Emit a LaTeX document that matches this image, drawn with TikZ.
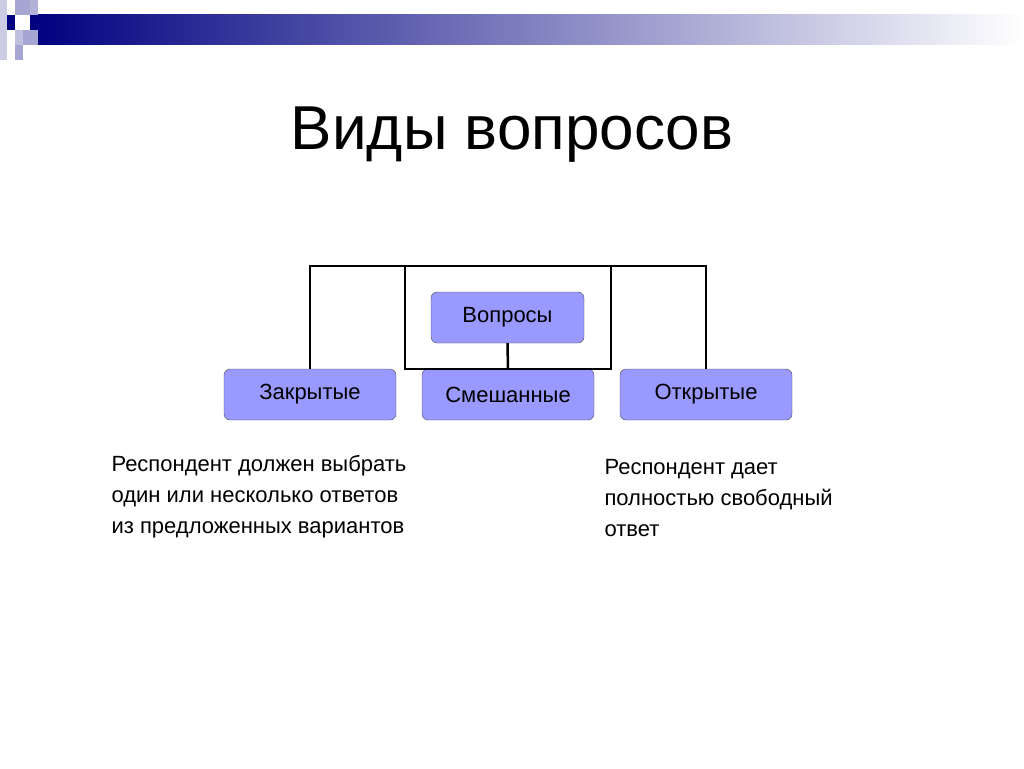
\documentclass[tikz,border=0pt]{standalone}
\usepackage{fontspec}
\setmainfont{Liberation Sans}
\begin{document}
\begin{tikzpicture}[x=1pt,y=-1pt,
  box/.style={draw=black!70,fill=boxblue,rounded corners=6pt,minimum height=51pt,font=\fontsize{22}{26}\selectfont,inner sep=0pt},
  ln/.style={line width=2.5pt}]
\definecolor{boxblue}{HTML}{9999FF}
\definecolor{navy}{HTML}{000080}
\useasboundingbox (0,0) rectangle (1024,768);
\shade[left color=navy,right color=white] (30,15) rectangle (1024,45);
\fill[navy] (7,15) rectangle (15,30);
\fill[navy!35] (15,0) rectangle (30,15);
\fill[navy!30] (30,0) rectangle (38,15);
\fill[navy!25] (15,30) rectangle (30,45);
\fill[navy!35] (23,30) rectangle (38,45);
\fill[navy!35] (15,45) rectangle (23,60);
\fill[navy!20] (0,0) rectangle (7,60);
\node[font=\fontsize{62}{70}\selectfont] (t) at (512,135) {Виды вопросов};
\node[box,minimum width=153pt] (q) at (507.5,317.5) {Вопросы};
\node[box,minimum width=172pt] (z) at (310,394.5) {Закрытые};
\node[box,minimum width=172pt] (s) at (508,394.5) {Смешанные};
\node[box,minimum width=172pt] (o) at (706,394.5) {Открытые};
\draw[ln] (z.north) -- (310,266) -- (706,266) -- (o.north);
\draw[ln] (405,266) rectangle (611,369);
\draw[ln] (q.south) -- (s.north);
\node[anchor=north west,align=left,font=\fontsize{22}{31}\selectfont] (a) at (108,452) {Респондент должен выбрать\\один или несколько ответов\\из предложенных вариантов};
\node[anchor=north west,align=left,font=\fontsize{22}{31}\selectfont] (b) at (601,456) {Респондент дает\\полностью свободный\\ответ};
\end{tikzpicture}
\end{document}
